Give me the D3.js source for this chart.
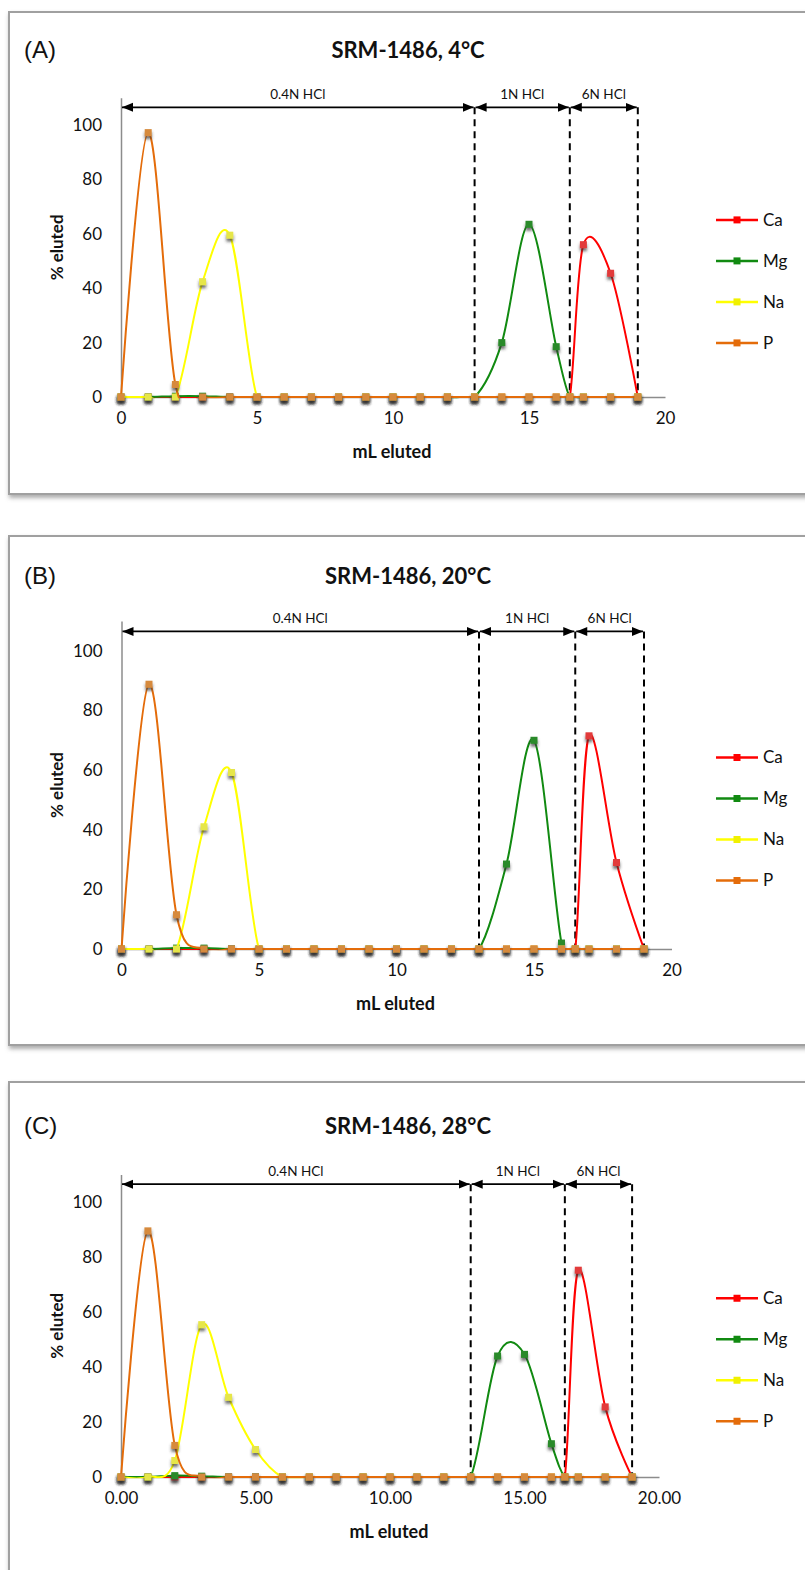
<!DOCTYPE html>
<html><head><meta charset="utf-8">
<script src="https://cdn.jsdelivr.net/npm/d3@7"></script>
<style>body{margin:0;background:#fff;} svg{display:block;}</style>
</head><body>
<svg id="c" width="805" height="1570"></svg>
<script>
// ---------- DATA ----------
const xValues = [0,1,2,3,4,5,6,7,8,9,10,11,12,13,14,15,16,16.5,17,18,19];
const seriesNames = ["Ca","Mg","Na","P"];
const seriesColors = ["#ff0000","#118a11","#ffff00","#e46c0a"];
const markerColors = ["#e23b3b","#2a8a2a","#e6e64a","#d68a3c"];

// Panel A (4°C)
const caA = [0,0,0,0,0,0,0,0,0,0,0,0,0,0,0,0,0,0,56,45.5,0];
const mgA = [0,0,0.3,0.3,0,0,0,0,0,0,0,0,0,0,20,63.5,18.5,0,0,0,0];
const naA = [0,0,0,42.4,59.5,0,0,0,0,0,0,0,0,0,0,0,0,0,0,0,0];
const pA  = [0,97.2,4.6,0,0,0,0,0,0,0,0,0,0,0,0,0,0,0,0,0,0];
// Panel B (20°C)
const caB = [0,0,0,0,0,0,0,0,0,0,0,0,0,0,0,0,0,0,71.5,29,0];
const mgB = [0,0,0.3,0.3,0,0,0,0,0,0,0,0,0,0,28.5,70,2,0,0,0,0];
const naB = [0,0,0,41,59.2,0,0,0,0,0,0,0,0,0,0,0,0,0,0,0,0];
const pB  = [0,88.8,11.5,0,0,0,0,0,0,0,0,0,0,0,0,0,0,0,0,0,0];
// Panel C (28°C)
const caC = [0,0,0,0,0,0,0,0,0,0,0,0,0,0,0,0,0,0,75.2,25.5,0];
const mgC = [0,0,0.5,0.3,0,0,0,0,0,0,0,0,0,0,44,44.6,12.1,0,0,0,0];
const naC = [0,0,6,55.4,29,10,0,0,0,0,0,0,0,0,0,0,0,0,0,0,0];
const pC  = [0,89.5,11.5,0,0,0,0,0,0,0,0,0,0,0,0,0,0,0,0,0,0];

const yTicks = [0,20,40,60,80,100];
const xTicks = [0,5,10,15,20];
const segmentBounds = [0,13,16.5,19];
const segmentLabels = ["0.4N HCl","1N HCl","6N HCl"];
const panelLabels = ["(A)","(B)","(C)"];
const panelTitles = ["SRM-1486, 4°C","SRM-1486, 20°C","SRM-1486, 28°C"];
const xTickFormats = ["d","d",".2f"];
const yLabel = "% eluted";
const xLabel = "mL eluted";

const panelData = [[caA,mgA,naA,pA],[caB,mgB,naB,pB],[caC,mgC,naC,pC]];

// ---------- LAYOUT ----------
const layouts = [
  {fy:12,  fh:482, x0:121, x1:665,   y0:397, yTop:97.8,  titleY:50},
  {fy:536, fh:509, x0:121.5, x1:671.5, y0:949, yTop:621,   titleY:576},
  {fy:1082,fh:560, x0:121, x1:659,   y0:1477, yTop:1174.5, titleY:1126}
];

const svg = d3.select("#c");
const defs = svg.append("defs");
const fs = defs.append("filter").attr("id","frameShadow").attr("x","-5%").attr("y","-5%").attr("width","110%").attr("height","110%");
fs.append("feDropShadow").attr("dx",1).attr("dy",3).attr("stdDeviation",2).attr("flood-color","#777").attr("flood-opacity",0.6);
const ms = defs.append("filter").attr("id","mShadow").attr("x","-150%").attr("y","-150%").attr("width","400%").attr("height","400%");
ms.append("feGaussianBlur").attr("in","SourceAlpha").attr("stdDeviation",1.8).attr("result","a");
ms.append("feOffset").attr("in","a").attr("dy",2.5).attr("result","b");
ms.append("feFlood").attr("flood-color","#333").attr("flood-opacity",0.7);
ms.append("feComposite").attr("in2","b").attr("operator","in").attr("result","s");
ms.append("feGaussianBlur").attr("in","SourceGraphic").attr("stdDeviation",0.7).attr("result","g");
const mm = ms.append("feMerge"); mm.append("feMergeNode").attr("in","s"); mm.append("feMergeNode").attr("in","g");

["arrS","arrE"].forEach((id,i)=>{
  defs.append("marker").attr("id",id).attr("markerUnits","userSpaceOnUse")
    .attr("markerWidth",12).attr("markerHeight",10).attr("refX", i===0?0:11).attr("refY",5)
    .attr("orient","auto").attr("viewBox","0 0 12 10")
    .append("path").attr("d", i===0 ? "M0,5 L11,0.5 L11,9.5 Z" : "M11,5 L0,0.5 L0,9.5 Z").attr("fill","#000");
});

const FONT = "Lato, 'Open Sans', sans-serif";

layouts.forEach((L, pi) => {
  const g = svg.append("g");
  g.append("rect").attr("x",9).attr("y",L.fy).attr("width",820).attr("height",L.fh)
    .attr("fill","#fff").attr("stroke","#a0a0a0").attr("stroke-width",2).attr("filter","url(#frameShadow)");

  const x = d3.scaleLinear().domain([0,20]).range([L.x0, L.x1]);
  const y = d3.scaleLinear().domain([0,110]).range([L.y0, L.yTop]);

  defs.append("clipPath").attr("id","clip"+pi).append("rect")
    .attr("x",L.x0-5).attr("y",L.yTop-30).attr("width",L.x1-L.x0+10).attr("height",L.y0-L.yTop+31.2);

  // labels
  g.append("text").attr("x",24).attr("y",L.titleY).attr("dy","0.35em")
    .style("font-family","'Liberation Sans', Arial, sans-serif").style("font-size","24px").attr("fill","#111")
    .text(panelLabels[pi]);
  g.append("text").attr("x",408).attr("y",L.titleY).attr("dy","0.35em").attr("text-anchor","middle")
    .style("font-family",FONT).style("font-weight","bold").style("font-size","22px").attr("fill","#111")
    .text(panelTitles[pi]);

  // axes
  const ya = d3.axisLeft(y).tickValues(yTicks).tickSize(0).tickPadding(19).tickFormat(d3.format("d"));
  const yg = g.append("g").attr("transform",`translate(${L.x0},0)`).call(ya);
  const xa = d3.axisBottom(x).tickValues(xTicks).tickSize(0).tickPadding(15).tickFormat(d3.format(xTickFormats[pi]));
  const xg = g.append("g").attr("transform",`translate(0,${L.y0})`).call(xa);
  [yg,xg].forEach(a=>{
    a.select(".domain").attr("stroke","#8c8c8c").attr("stroke-width",1.5);
    a.selectAll("text").style("font-family",FONT).style("font-size","17px").attr("fill","#111");
  });

  g.append("text").attr("transform",`translate(57,${(L.y0+L.yTop)/2}) rotate(-90)`).attr("dy","0.35em")
    .attr("text-anchor","middle").style("font-family",FONT).style("font-weight","bold").style("font-size","17px")
    .attr("fill","#111").text(yLabel);
  g.append("text").attr("x",(L.x0+L.x1)/2 - 1).attr("y",L.y0+55).attr("dy","0.35em").attr("text-anchor","middle")
    .style("font-family",FONT).style("font-weight","bold").style("font-size","18px").attr("fill","#111").text(xLabel);

  // eluent segments
  const arrowY = y(106.5);
  segmentBounds.slice(1).forEach(b=>{
    g.append("line").attr("x1",x(b)).attr("x2",x(b)).attr("y1",arrowY).attr("y2",L.y0)
      .attr("stroke","#000").attr("stroke-width",2).attr("stroke-dasharray","7,5");
  });
  segmentLabels.forEach((lab,i)=>{
    const a = segmentBounds[i], b = segmentBounds[i+1];
    g.append("line").attr("x1",x(a)+1).attr("x2",x(b)-1).attr("y1",arrowY).attr("y2",arrowY)
      .attr("stroke","#000").attr("stroke-width",1.8)
      .attr("marker-start","url(#arrS)").attr("marker-end","url(#arrE)");
    g.append("text").attr("x",(x(a)+x(b))/2).attr("y",arrowY-13).attr("dy","0.35em").attr("text-anchor","middle")
      .style("font-family",FONT).style("font-size","13.5px").attr("fill","#111").text(lab);
  });

  // series
  const line = d3.line().x(d=>x(d[0])).y(d=>y(d[1])).curve(d3.curveCardinal.tension(0));
  panelData[pi].forEach((vals,si)=>{
    const pts = xValues.map((xv,k)=>[xv, vals[k]]);
    g.append("path").attr("d",line(pts)).attr("fill","none").attr("stroke",seriesColors[si]).attr("stroke-width",2)
      .attr("clip-path",`url(#clip${pi})`);
    g.append("g").selectAll("rect").data(pts).join("rect")
      .attr("x",d=>x(d[0])-3.5).attr("y",d=>y(d[1])-3.5).attr("width",7).attr("height",7)
      .attr("fill",markerColors[si]).attr("filter","url(#mShadow)");
  });

  // legend
  const legY0 = (L.y0+L.yTop)/2 + 34 - 61.5;
  seriesNames.forEach((n,si)=>{
    const ly = legY0 + si*41;
    g.append("line").attr("x1",716).attr("x2",758).attr("y1",ly).attr("y2",ly)
      .attr("stroke",seriesColors[si]).attr("stroke-width",2.5);
    g.append("rect").attr("x",733.5).attr("y",ly-3.5).attr("width",7).attr("height",7).attr("fill",seriesColors[si]==="#ffff00"?"#f0f000":seriesColors[si]);
    g.append("text").attr("x",763).attr("y",ly).attr("dy","0.35em")
      .style("font-family",FONT).style("font-size","17px").attr("fill","#111").text(n);
  });
});
</script>
</body></html>
